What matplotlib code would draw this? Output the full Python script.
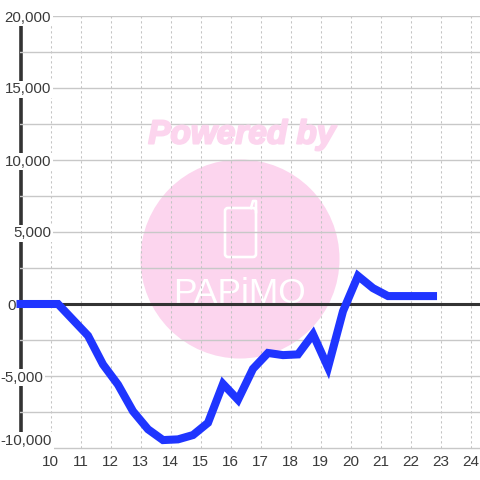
import matplotlib
matplotlib.use("Agg")
import matplotlib.pyplot as plt
import matplotlib.patheffects as pe
from matplotlib.patches import Circle, FancyBboxPatch
from matplotlib.lines import Line2D
from matplotlib.transforms import IdentityTransform

plt.rcParams['font.family'] = ['Liberation Sans', 'DejaVu Sans']

hours = [9.0, 9.75, 10.25, 10.75, 11.25, 11.75, 12.25, 12.75, 13.25, 13.75, 14.25, 14.75,
         15.25, 15.75, 16.25, 16.75, 17.25, 17.75, 18.25, 18.75, 19.25, 19.75, 20.25,
         20.75, 21.25, 21.75, 22.25, 22.75]
values = [0, 0, 0, -1100, -2200, -4200, -5600, -7450, -8700, -9450, -9400, -9100,
          -8250, -5550, -6650, -4500, -3400, -3550, -3500, -2100, -4400, -500, 1950,
          1100, 550, 550, 550, 550]
x_ticks = list(range(10, 25))
y_major = [-10000, -5000, 0, 5000, 10000, 15000, 20000]
y_labels = ['-10,000', '-5,000', '0', '5,000', '10,000', '15,000', '20,000']
y_minor = [-7500, -2500, 2500, 7500, 12500, 17500]
y_label_right_px = [52, 43, 16, 51, 51, 51, 51]

W = 480
TXT = '#3a3a3a'
DARK = '#333333'
GRID = '#c8c8c8'
PINK = '#fcd5ee'
BLUE = '#1f35ff'

fig = plt.figure(figsize=(4.8, 4.8), dpi=100, facecolor='white')
L, R, T, B = 20, 480, 16, 448
ax = fig.add_axes([L / W, 1 - B / W, (R - L) / W, (B - T) / W])
ax.set_xlim(10 + (L - 50.5) / 30, 10 + (R - 50.5) / 30)
ax.set_ylim(-10000, 20000)
for s in ax.spines.values():
    s.set_visible(False)

px = IdentityTransform()
def P(x, y):
    return (x, W - y)

# watermark
ax.add_patch(Circle(P(240, 259), 99.5, transform=px, fc=PINK, ec='none', zorder=1, clip_on=False))
fig.text(242 / W, 1 - 135 / W, 'Powered by', color=PINK, fontsize=24, fontweight='bold',
         fontstyle='italic', ha='center', va='center', zorder=0.5,
         path_effects=[pe.withStroke(linewidth=1.5, foreground=PINK)])
ax.add_patch(FancyBboxPatch(P(225, 257), 31, 49, boxstyle='round,pad=0,rounding_size=3', transform=px,
                            fc='none', ec='white', lw=1.9, zorder=1.1, clip_on=False))
ax.add_line(Line2D([P(251, 0)[0], P(253, 0)[0], P(256, 0)[0], P(256, 0)[0]],
                   [P(0, 208)[1], P(0, 201)[1], P(0, 201)[1], P(0, 212)[1]],
                   transform=px, color='white', lw=1.9, zorder=1.1, clip_on=False))
ax.text(240 / W, 1 - 303 / W, 'PAPiMO', transform=fig.transFigure, color='white',
        fontsize=25.5, ha='center', va='baseline', zorder=1.1)

# grid
ax.set_xticks(x_ticks)
ax.set_yticks(y_major, labels=y_labels)
ax.set_yticks(y_minor, minor=True)
ax.grid(True, axis='y', which='both', color=GRID, lw=1.0)
ax.grid(True, axis='x', color='#c4c4c4', lw=0.75, ls=(0, (2.2, 2.6)))
ax.tick_params(axis='both', which='both', length=0)
ax.tick_params(axis='x', labelsize=11, labelcolor=TXT, pad=5)
ax.tick_params(axis='y', labelsize=10.8, labelcolor=TXT, pad=0)
for tick, right in zip(ax.yaxis.get_major_ticks(), y_label_right_px):
    lab = tick.label1
    lab.set_x((right - L) / (R - L))
    lab.set_ha('right')
    lab.set_bbox(dict(fc='white', ec='none', pad=1.2))
# the lowest label sits above its gridline in the reference
lowest = ax.yaxis.get_major_ticks()[0]
lowest.label1.set_va('bottom')
lowest.gridline.set_visible(False)
ax.add_line(Line2D([54 / W, 1], [1 - 447.5 / W, 1 - 447.5 / W], transform=fig.transFigure,
                   color=GRID, lw=1.0, zorder=1.4, clip_on=False))

# axes lines
ax.add_line(Line2D([20.5 / W, 20.5 / W], [1 - 436 / W, 1 - 16 / W], transform=fig.transFigure,
                   color=DARK, lw=2.6, zorder=1.2, clip_on=False))
ax.axhline(0, color=DARK, lw=2.2, zorder=1.7)

# data
ax.plot(hours, values, color=BLUE, lw=5.8, solid_joinstyle='miter', solid_capstyle='projecting',
        zorder=3, clip_on=False)

fig.savefig('out.png', dpi=100, facecolor='white')
